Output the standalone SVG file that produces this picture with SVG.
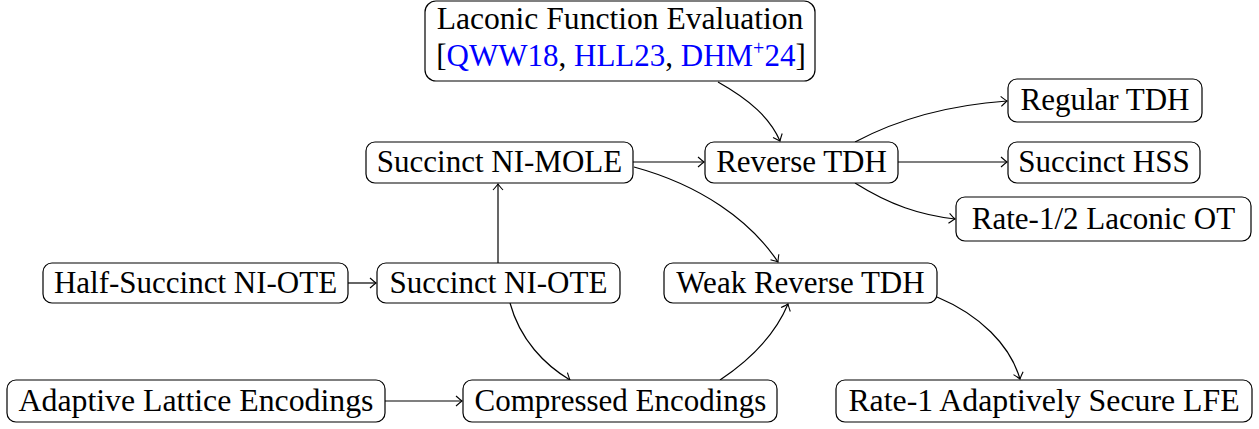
<svg xmlns="http://www.w3.org/2000/svg" width="1259" height="429" viewBox="0 0 1259 429">
<style>
.box{fill:#fff;stroke:#000;stroke-width:1.2}
.t{font-family:'Liberation Serif','Times New Roman',serif;font-size:31px;fill:#000;text-anchor:middle}
.c{fill:#0000ff}
.e{fill:none;stroke:#000;stroke-width:1.2;marker-end:url(#arr)}
</style>
<defs>
<marker id="arr" markerWidth="12" markerHeight="12" refX="0" refY="0" viewBox="-7 -6 9 12" orient="auto" markerUnits="userSpaceOnUse">
<path d="M-6,-5 Q-1.5,-1 0,0 Q-1.5,1 -6,5" fill="none" stroke="#000" stroke-width="1.1"/>
</marker>
</defs>
<rect width="1259" height="429" fill="#fff"/>
<g id="connectors">
<path class="e" d="M718,82 C750,100 770,118 780,141"/>
<path class="e" d="M633,162 L704,162"/>
<path class="e" d="M634,167 C700,185 750,220 778,262"/>
<path class="e" d="M855,142 C900,118 950,105 1007,101"/>
<path class="e" d="M898,162 L1007,162"/>
<path class="e" d="M855,183 C890,205 920,215 955,219"/>
<path class="e" d="M348,283 L376,283"/>
<path class="e" d="M498,263 L498,184"/>
<path class="e" d="M510,303 C520,340 545,365 570,380"/>
<path class="e" d="M385,401 L462,401"/>
<path class="e" d="M720,380 C750,360 775,335 788,304"/>
<path class="e" d="M937,297 C980,315 1010,345 1020,379"/>
</g>
<g id="lfe">
<rect class="box" x="425" y="1" width="390" height="80" rx="11"/>
<text class="t" x="620" y="29" style="font-size:31.6px">Laconic Function Evaluation</text>
<text class="t" x="621" y="66">[<tspan class="c">QWW18</tspan>, <tspan class="c">HLL23</tspan>, <tspan class="c">DHM<tspan style="font-size:20px" dy="-11">+</tspan><tspan dy="11">24</tspan></tspan>]</text>
</g>
<g id="mole">
<rect class="box" x="366" y="142" width="267" height="41" rx="9"/>
<text class="t" x="499.5" y="172">Succinct NI-MOLE</text>
</g>
<g id="rtdh">
<rect class="box" x="705" y="142" width="193" height="41" rx="9"/>
<text class="t" x="801.5" y="172">Reverse TDH</text>
</g>
<g id="regtdh">
<rect class="box" x="1008" y="79" width="194" height="43" rx="9"/>
<text class="t" x="1105" y="110">Regular TDH</text>
</g>
<g id="hss">
<rect class="box" x="1008" y="142" width="192" height="41" rx="9"/>
<text class="t" x="1104" y="172">Succinct HSS</text>
</g>
<g id="lot">
<rect class="box" x="956" y="197" width="295" height="44" rx="9"/>
<text class="t" x="1103.5" y="229">Rate-1/2 Laconic OT</text>
</g>
<g id="hsote">
<rect class="box" x="43" y="263" width="305" height="40" rx="9"/>
<text class="t" x="195.5" y="293">Half-Succinct NI-OTE</text>
</g>
<g id="sote">
<rect class="box" x="377" y="263" width="243" height="40" rx="9"/>
<text class="t" x="498.5" y="293">Succinct NI-OTE</text>
</g>
<g id="wrtdh">
<rect class="box" x="664" y="263" width="273" height="40" rx="9"/>
<text class="t" x="800.5" y="293">Weak Reverse TDH</text>
</g>
<g id="ale">
<rect class="box" x="7" y="380" width="378" height="42" rx="9"/>
<text class="t" x="196" y="411" style="font-size:31.8px">Adaptive Lattice Encodings</text>
</g>
<g id="ce">
<rect class="box" x="463" y="380" width="314" height="42" rx="9"/>
<text class="t" x="620.5" y="411">Compressed Encodings</text>
</g>
<g id="r1lfe">
<rect class="box" x="836" y="380" width="416" height="42" rx="9"/>
<text class="t" x="1044" y="411" style="font-size:31.8px">Rate-1 Adaptively Secure LFE</text>
</g>
</svg>
